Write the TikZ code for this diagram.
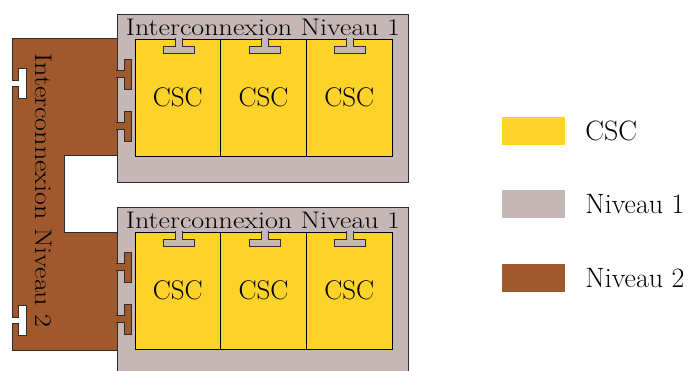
\documentclass[tikz,border=0pt]{standalone}
\usetikzlibrary{positioning}
\definecolor{cscyellow}{RGB}{253,211,41}
\definecolor{niv1gray}{RGB}{198,183,183}
\definecolor{niv2brown}{RGB}{160,89,44}
\definecolor{edge}{RGB}{45,45,45}

\begin{document}
\begin{tikzpicture}[
		x=1pt,y=-1pt,
		every node/.append style={inner sep=0pt},
		outline/.style={draw=edge,line width=1pt},
		box/.style={outline,fill=niv1gray},
		csc/.style={
			draw=black,
			line width=0.8pt,
			fill=cscyellow,
			minimum width=85.7pt,
			minimum height=117pt,
			font=\fontsize{27}{30}\selectfont,
		},
		title/.style={font=\fontsize{24}{28}\selectfont,xscale=1.17,anchor=base},
		swatch/.style={minimum width=63pt,minimum height=28pt},
		legend/.style={font=\fontsize{28}{32}\selectfont,anchor=west},
	]
	\useasboundingbox (0,0) rectangle (689,370);
	\clip (0,0) rectangle (689,370);
	% level 2 interconnect on the left
	\draw[outline,fill=niv2brown] (12,38) -- (118,38) -- (118,155) -- (64,155) -- (64,232)
		-- (118,232) -- (118,350) -- (12,350) -- (12,323) -- (18,323) -- (18,335) -- (26,335)
		-- (26,305) -- (18,305) -- (18,317) -- (12,317) -- (12,86) -- (18,86) -- (18,98)
		-- (26,98) -- (26,68) -- (18,68) -- (18,80) -- (12,80) -- cycle;
	\node[rotate=-90,title] (lvl2title) at (35,190.5) {Interconnexion Niveau 2};
	% the two level 1 boxes with their CSC
	\foreach \dy/\b in {0/1,193/2} {
		\draw[box] (117,14+\dy) rectangle (408,182+\dy);
		\node[title] (title\b) at (263,35+\dy) {Interconnexion Niveau 1};
		\foreach \cx [count=\c] in {177.8,263.5,349.2} {
			\node[csc] (csc\b\c) at (\cx,97.5+\dy) {CSC};
			\path[fill=niv1gray,outline] (\cx-2.5,38+\dy) -- ++(0,8) -- ++(-12,0) -- ++(0,7)
				-- ++(31,0) -- ++(0,-7) -- ++(-12,0) -- ++(0,-8);
		}
		\foreach \cy in {74,126} {
			\path[fill=niv2brown,outline] (116,\cy-3.5+\dy) -- ++(8,0) -- ++(0,-11.5) -- ++(7,0)
				-- ++(0,30) -- ++(-7,0) -- ++(0,-11.5) -- ++(-8,0);
		}
	}
	% legend
	\node[swatch,fill=cscyellow] (legcsc) at (533.5,131) {};
	\node[swatch,fill=niv1gray,below=45pt of legcsc] (legniv1) {};
	\node[swatch,fill=niv2brown,below=45pt of legniv1] (legniv2) {};
	\node[legend,right=20pt of legcsc] (legcsctext) {CSC};
	\node[legend,right=20pt of legniv1] (legniv1text) {Niveau 1};
	\node[legend,right=20pt of legniv2] (legniv2text) {Niveau 2};
\end{tikzpicture}
\end{document}
